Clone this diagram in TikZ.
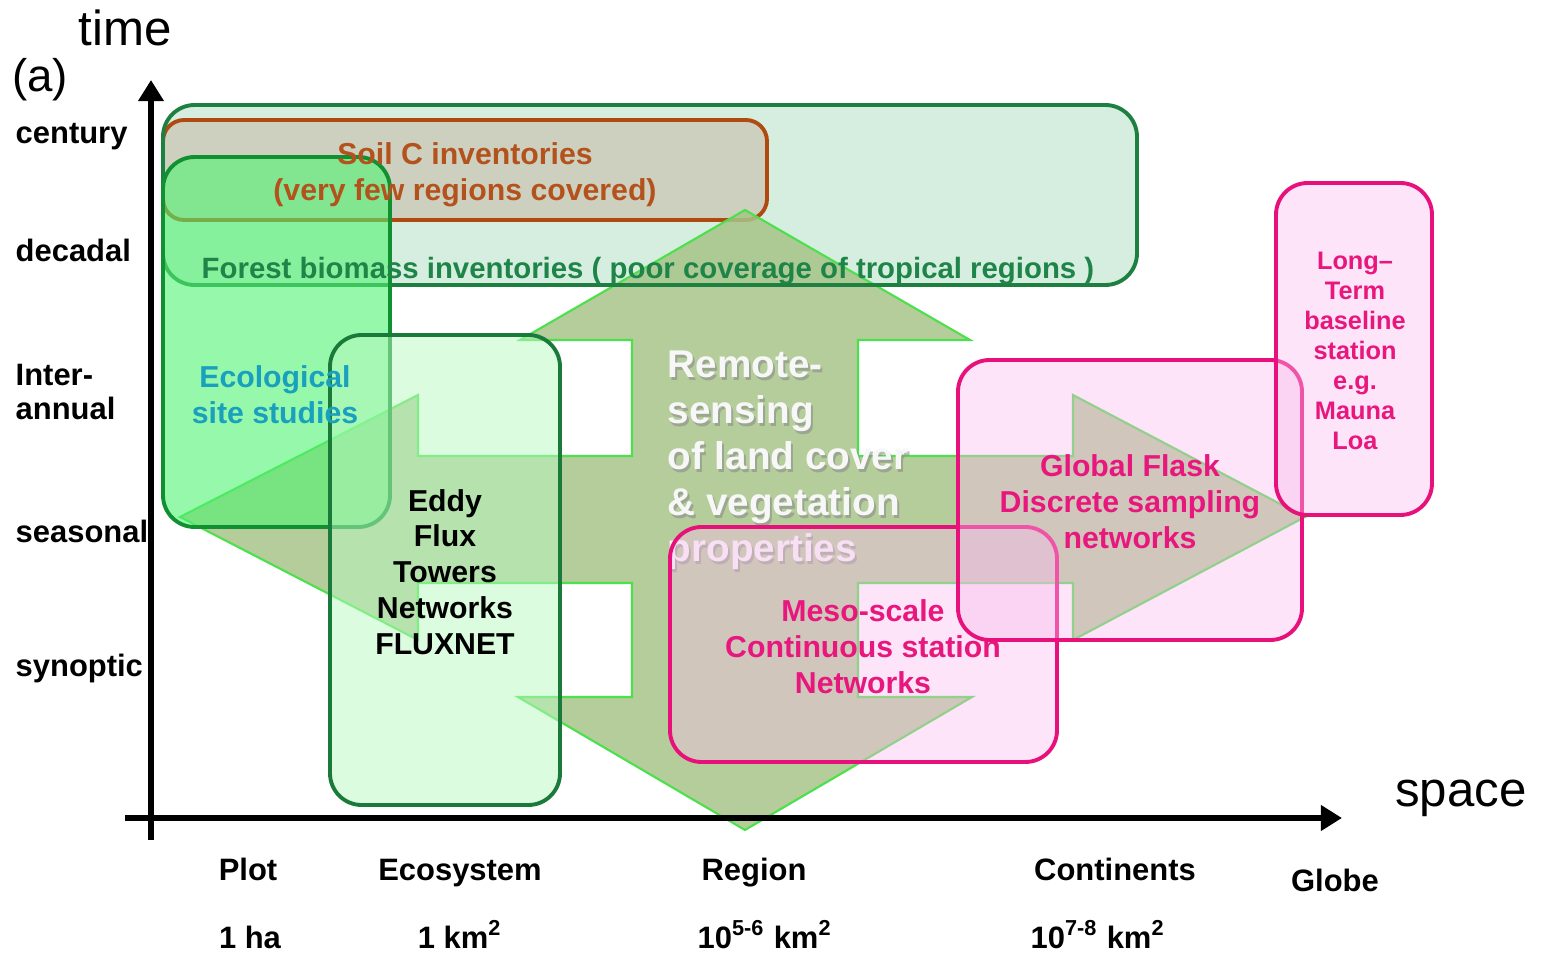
\documentclass[tikz,border=0pt]{standalone}
\usepackage{fontspec}
\setmainfont{Liberation Sans}
\usetikzlibrary{arrows.meta}

\definecolor{forestfill}{RGB}{213,238,224}
\definecolor{forestline}{RGB}{30,128,64}
\definecolor{foresttext}{RGB}{30,132,72}
\definecolor{soilfill}{RGB}{198,180,160}
\definecolor{soilline}{RGB}{176,74,16}
\definecolor{soiltext}{RGB}{180,82,30}
\definecolor{ecofill}{RGB}{80,243,113}
\definecolor{ecoline}{RGB}{16,144,48}
\definecolor{ecotext}{RGB}{25,160,190}
\definecolor{eddyfill}{RGB}{185,249,193}
\definecolor{eddyline}{RGB}{26,122,58}
\definecolor{quadfill}{RGB}{167,196,137}
\definecolor{quadline}{RGB}{76,224,76}
\definecolor{pinkfill}{RGB}{250,187,237}
\definecolor{pinkline}{RGB}{232,16,122}
\definecolor{pinktext}{RGB}{232,23,125}

\begin{document}
\begin{tikzpicture}[x=0.01cm, y=-0.01cm,
    every node/.style={inner sep=0pt, font=\fontsize{8.6}{10.2}\selectfont\bfseries},
    box/.style={rounded corners=9pt, line width=1.1pt},
    pinkbox/.style={box, draw=pinkline, fill=pinkfill, fill opacity=0.4},
    pinklabel/.style={text=pinktext, align=center},
    scalelabel/.style={anchor=west, align=left, font=\fontsize{8.8}{9.7}\selectfont\bfseries},
    sizelabel/.style={anchor=base, font=\fontsize{8.8}{10}\selectfont\bfseries},
    remote/.style={anchor=west, align=left, font=\fontsize{11}{13.1}\selectfont\bfseries},
    axis/.style={line width=1.5pt, -{Triangle[length=6pt, width=7pt]}}]
  \useasboundingbox (0,0) rectangle (1541,955);

  % forest biomass and soil C boxes
  \fill[forestfill, rounded corners=9pt] (163,105) rectangle (1137,285);
  \draw[box, rounded corners=6pt, draw=soilline, fill=soilfill, fill opacity=0.5] (163,120) rectangle (767,220);

  % remote sensing quad arrow
  \draw[quadline, line width=0.6pt, fill=quadfill, fill opacity=0.85]
    (745,210) -- (970,340) -- (858,340) -- (858,456) -- (1073,456) -- (1073,395)
    -- (1305,517) -- (1073,640) -- (1073,583) -- (858,583) -- (858,697) -- (972,697)
    -- (745,830) -- (518,697) -- (632,697) -- (632,583) -- (418,583) -- (418,640)
    -- (180,517) -- (418,395) -- (418,456) -- (632,456) -- (632,340) -- (520,340) -- cycle;
  \draw[box, draw=forestline] (163,105) rectangle (1137,285);

  % site and tower boxes
  \draw[box, draw=ecoline, fill=ecofill, fill opacity=0.6] (163,157) rectangle (390,527);
  \draw[box, draw=eddyline, fill=eddyfill, fill opacity=0.5] (330,335) rectangle (560,805);

  \node[text=soiltext, align=center] (soil) at (465,175) {Soil C inventories\\(very few regions covered)};
  \node[text=foresttext, font=\fontsize{8.35}{10}\selectfont\bfseries] (forest) at (648,271)
    {Forest biomass inventories ( poor coverage of tropical regions )};
  \node[text=ecotext, align=center] (eco) at (275,395) {Ecological\\site studies};
  \node[align=center] (eddy) at (445,572) {Eddy\\Flux\\Towers\\Networks\\FLUXNET};

  % remote sensing text with shadow
  \node[remote, text=black!45, opacity=0.6] (rsshadow) at (669,463)
    {Remote-\\sensing\\of land cover\\\& vegetation\\properties};
  \node[remote, text=white!94!gray] (rs) at (667,460)
    {Remote-\\sensing\\of land cover\\\& vegetation\\properties};

  % station networks
  \draw[pinkbox] (670,527) rectangle (1057,762);
  \draw[pinkbox] (958,360) rectangle (1302,640);
  \draw[pinkbox] (1276,183) rectangle (1432,515);
  \node[pinklabel] (meso) at (863,647) {Meso-scale\\Continuous station\\Networks};
  \node[pinklabel] (flask) at (1130,502) {Global Flask\\Discrete sampling\\networks};
  \node[pinklabel, font=\fontsize{7.2}{8.5}\selectfont\bfseries] (longterm) at (1355,351)
    {Long–\\Term\\baseline\\station\\e.g.\\Mauna\\Loa};

  % axes
  \coordinate (ybot) at (151,840);
  \coordinate (ytop) at (151,80);
  \coordinate (xleft) at (125,818);
  \coordinate (xright) at (1342,818);
  \draw[axis] (ybot) -- (ytop);
  \draw[axis] (xleft) -- (xright);
  \node[font=\fontsize{14}{16}\selectfont] (time) at (125,28) {time};
  \node[font=\fontsize{13}{15}\selectfont] (panel) at (40,80) {(a)};
  \node[font=\fontsize{14}{16}\selectfont] (space) at (1461,798) {space};

  % time scales
  \node[scalelabel] (century) at (15,137) {century};
  \node[scalelabel] (decadal) at (15,250) {decadal};
  \node[scalelabel] (interannual) at (15,392) {Inter-\\annual};
  \node[scalelabel] (seasonal) at (15,531) {seasonal};
  \node[scalelabel] (synoptic) at (15,669) {synoptic};

  % space scales
  \node[sizelabel] (plot) at (248,881) {Plot};
  \node[sizelabel] (ecosystem) at (460,881) {Ecosystem};
  \node[sizelabel] (region) at (754,881) {Region};
  \node[sizelabel] (continents) at (1115,881) {Continents};
  \node[sizelabel] (globe) at (1335,892) {Globe};
  \node[sizelabel] (ha) at (250,949) {1 ha};
  \node[sizelabel] (km) at (460,949) {1 km\textsuperscript{2}};
  \node[sizelabel] (kmregion) at (765,949) {10\textsuperscript{5-6} km\textsuperscript{2}};
  \node[sizelabel] (kmcontinent) at (1098,949) {10\textsuperscript{7-8} km\textsuperscript{2}};
\end{tikzpicture}
\end{document}
